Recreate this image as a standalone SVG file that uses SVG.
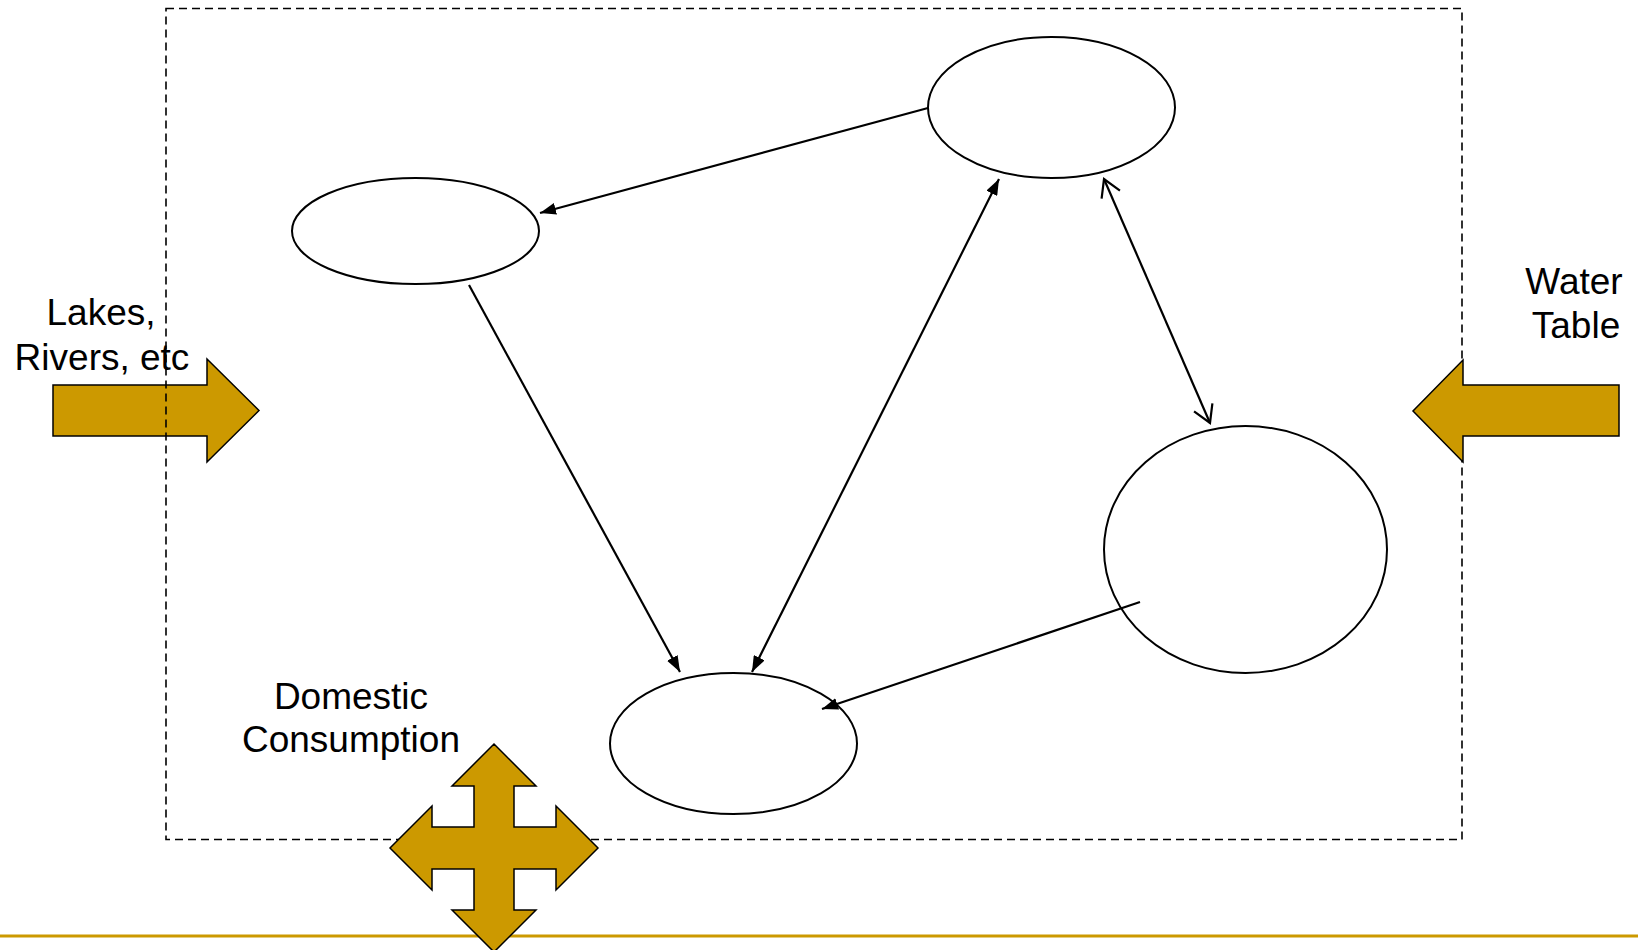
<svg xmlns="http://www.w3.org/2000/svg" width="1638" height="950" viewBox="0 0 1638 950">
  <style>
    .node { fill: none; stroke: #000; stroke-width: 2; }
    .conn { stroke: #000; stroke-width: 2.2; fill: none; }
    .block { fill: #cc9900; stroke: #000; stroke-width: 1.5; stroke-linejoin: miter; }
    .lbl { font-family: "Liberation Sans", Arial, sans-serif; font-size: 37px; fill: #000; text-anchor: middle; }
    .frame { fill: none; stroke: #000; stroke-width: 1.6; stroke-dasharray: 8 5; }
  </style>
  <defs>
    <marker id="filled" markerUnits="userSpaceOnUse" viewBox="0 0 16 12" markerWidth="16" markerHeight="12" refX="16" refY="6" orient="auto-start-reverse">
      <path d="M0,0 L16,6 L0,12 z" fill="#000"/>
    </marker>
    <marker id="open" markerUnits="userSpaceOnUse" viewBox="-2 -2 22 24" markerWidth="22" markerHeight="24" refX="17" refY="10" orient="auto-start-reverse">
      <path d="M0,0 L17,10 L0,20" fill="none" stroke="#000" stroke-width="2.2"/>
    </marker>
  </defs>

  <rect width="1638" height="950" fill="#fff"/>

  <line x1="0" y1="936" x2="1638" y2="936" stroke="#cc9900" stroke-width="3"/>

  <g id="lakes-arrow">
    <polygon class="block" points="53,385 207,385 207,359 259,410.5 207,462 207,436 53,436"/>
  </g>

  <g id="system-boundary">
    <rect class="frame" x="166" y="8.5" width="1296" height="831"/>
  </g>

  <g id="water-table-arrow">
    <polygon class="block" points="1619,385 1463,385 1463,360 1413,411 1463,462 1463,436 1619,436"/>
  </g>

  <g id="consumption-arrow">
    <polygon class="block" points="494,744 536,786 514,786 514,827 556,827 556,806 598,848 556,890 556,869 514,869 514,910 536,910 494,952 452,910 474,910 474,869 432,869 432,890 390,848 432,806 432,827 474,827 474,786 452,786"/>
  </g>

  <g id="node-top"><ellipse class="node" cx="1051.5" cy="107.5" rx="123.5" ry="70.5"/></g>
  <g id="node-left"><ellipse class="node" cx="415.5" cy="231" rx="123.5" ry="53"/></g>
  <g id="node-right"><ellipse class="node" cx="1245.5" cy="549.5" rx="141.5" ry="123.5"/></g>
  <g id="node-bottom"><ellipse class="node" cx="733.5" cy="743.5" rx="123.5" ry="70.5"/></g>

  <g id="connectors">
    <line class="conn" x1="928" y1="108" x2="540" y2="213" marker-end="url(#filled)"/>
    <line class="conn" x1="469" y1="285" x2="680" y2="672" marker-end="url(#filled)"/>
    <line class="conn" x1="752" y1="672" x2="999" y2="179" marker-start="url(#filled)" marker-end="url(#filled)"/>
    <line class="conn" x1="1140" y1="602" x2="822" y2="709" marker-end="url(#filled)"/>
    <line class="conn" x1="1104" y1="179" x2="1210" y2="423" marker-start="url(#open)" marker-end="url(#open)"/>
  </g>

  <g id="label-lakes">
    <text class="lbl" x="101" y="325">Lakes,</text>
    <text class="lbl" x="102" y="370">Rivers, etc</text>
  </g>
  <g id="label-water-table">
    <text class="lbl" x="1574" y="294">Water</text>
    <text class="lbl" x="1576" y="338">Table</text>
  </g>
  <g id="label-domestic">
    <text class="lbl" x="351" y="709">Domestic</text>
    <text class="lbl" x="351" y="752">Consumption</text>
  </g>
</svg>
